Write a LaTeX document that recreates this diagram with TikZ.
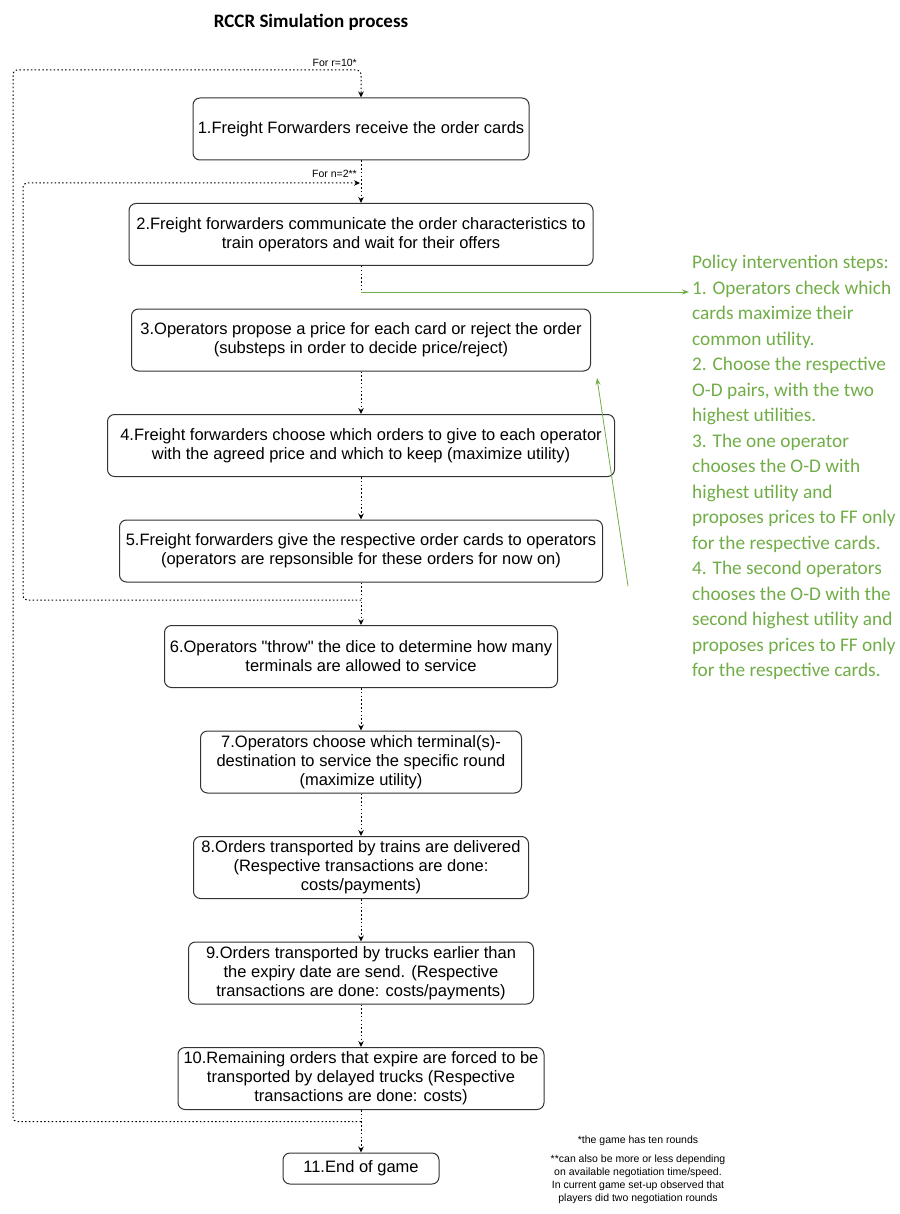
\documentclass[tikz,border=0pt]{standalone}
\usepackage{fontspec}
\newfontfamily\arialfont{Liberation Sans}
\newfontfamily\calibri{Carlito}
\usetikzlibrary{arrows.meta, positioning, calc}
\definecolor{polgreen}{HTML}{70AD47}
\definecolor{boxline}{HTML}{333333}
\tikzset{
    stepbox/.style={rectangle, draw=boxline, line width=1pt, rounded corners=7pt, align=center, minimum height=62pt, inner xsep=2pt, inner ysep=1pt, font=\arialfont\fontsize{16.5}{19}\selectfont},
    flow/.style={line width=1pt, dash pattern=on 1.5pt off 2.3pt, -{Stealth[length=6pt, width=5.5pt]}},
    loopline/.style={flow, rounded corners=4pt},
    policy/.style={draw=polgreen, line width=0.8pt, -{Stealth[length=7pt, width=5pt]}}
}

\begin{document}
\begin{tikzpicture}[x=1pt, y=1pt,
    looplabel/.style={font=\arialfont\fontsize{10.5}{12}\selectfont, inner sep=1pt},
    footnote/.style={font=\arialfont\fontsize{10.5}{13}\selectfont, align=center, inner sep=0pt}]

    \useasboundingbox (0,0) rectangle (899,-1214);

    % Title
    \node (title) [font=\calibri\bfseries\fontsize{19}{23}\selectfont] at (311,-22) {RCCR Simulation process};

    % Steps of one round
    \node (s1) [stepbox, minimum width=336pt] at (361,-129) {1.Freight Forwarders receive the order cards};
    \node (s2) [stepbox, minimum width=464pt, below=42.5pt of s1] {2.Freight forwarders communicate the order characteristics to\\ train operators and wait for their offers};
    \node (s3) [stepbox, minimum width=459pt, below=42.5pt of s2] {3.Operators propose a price for each card or reject the order\\ (substeps in order to decide price/reject)};
    \node (s4) [stepbox, minimum width=507pt, below=42.5pt of s3] {4.Freight forwarders choose which orders to give to each operator\\ with the agreed price and which to keep (maximize utility)};
    \node (s5) [stepbox, minimum width=483pt, below=42.5pt of s4] {5.Freight forwarders give the respective order cards to operators\\ (operators are repsonsible for these orders for now on)};
    \node (s6) [stepbox, minimum width=393pt, below=42.5pt of s5] {6.Operators "throw" the dice to determine how many\\ terminals are allowed to service};
    \node (s7) [stepbox, minimum width=321pt, below=42.5pt of s6] {7.Operators choose which terminal(s)-\\ destination to service the specific round\\ (maximize utility)};
    \node (s8) [stepbox, minimum width=335pt, below=42.5pt of s7] {8.Orders transported by trains are delivered\\ (Respective transactions are done:\\ costs/payments)};
    \node (s9) [stepbox, minimum width=345pt, below=42.5pt of s8] {9.Orders transported by trucks earlier than\\ the expiry date are send. (Respective\\ transactions are done: costs/payments)};
    \node (s10) [stepbox, minimum width=366pt, below=42.5pt of s9] {10.Remaining orders that expire are forced to be\\ transported by delayed trucks (Respective\\ transactions are done: costs)};
    \node (s11) [stepbox, minimum width=156pt, minimum height=31pt, below=42.5pt of s10] {11.End of game};

    % Arrows between steps
    \draw [flow] (s1) -- (s2);
    \coordinate (gsplit) at (361,-292);
    \draw [flow, -] (s2) -- (gsplit);
    \draw [flow] (s3) -- (s4);
    \draw [flow] (s4) -- (s5);
    \draw [flow] (s5) -- (s6);
    \draw [flow] (s6) -- (s7);
    \draw [flow] (s7) -- (s8);
    \draw [flow] (s8) -- (s9);
    \draw [flow] (s9) -- (s10);
    \draw [flow] (s10) -- (s11);

    % Loops
    \coordinate (rjoin) at (361,-1121.5);
    \coordinate (rtop) at (361,-70);
    \draw [loopline] (rjoin) -- ++(-348,0) |- (rtop) -- (s1);
    \coordinate (njoin) at (361,-600);
    \coordinate (ntop) at (360,-183);
    \draw [loopline] (njoin) -- ++(-338,0) |- (ntop);
    \node (rlab) [looplabel, anchor=south east] at (358,-68) {For r=10*};
    \node (nlab) [looplabel, anchor=south east] at (358,-179) {For n=2**};

    % Policy intervention
    \node (policy) [anchor=north west, text=polgreen, align=left, inner sep=0pt,
        font=\calibri\fontsize{19.3}{25.5}\selectfont] at (692,-255) {Policy intervention steps:\\
        1. Operators check which\\ cards maximize their\\ common utility.\\
        2. Choose the respective\\ O-D pairs, with the two\\ highest utilities.\\
        3. The one operator\\ chooses the O-D with\\ highest utility and\\ proposes prices to FF only\\ for the respective cards.\\
        4. The second operators\\ chooses the O-D with the\\ second highest utility and\\ proposes prices to FF only\\ for the respective cards.};
    \coordinate (ptip) at (689,-292);
    \draw [policy] (gsplit) -- (ptip);
    \coordinate (pfoot) at (628,-586);
    \coordinate (phead) at (597,-378);
    \draw [policy] (pfoot) -- (phead);

    % Footnotes
    \node (fn1) [footnote] at (638,-1141) {*the game has ten rounds};
    \node (fn2) [footnote, anchor=north] at (638,-1155) {**can also be more or less depending\\ on available negotiation time/speed.\\ In current game set-up observed that\\ players did two negotiation rounds};
\end{tikzpicture}
\end{document}
